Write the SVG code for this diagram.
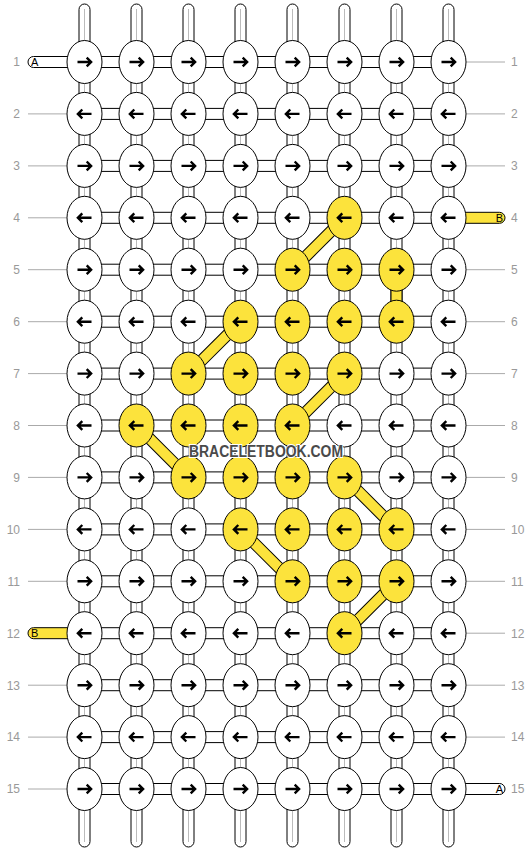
<svg xmlns="http://www.w3.org/2000/svg" xmlns:xlink="http://www.w3.org/1999/xlink" width="532" height="852" viewBox="0 0 532 852">
<style>
.str{fill:#fff;stroke:#000;stroke-width:1}
.core{stroke:#bbb;stroke-width:1}
.hc{fill:#fff;stroke:#000;stroke-width:1}
.ycon{fill:#fce33c;stroke:#000;stroke-width:1}
.dgo{stroke:#000;stroke-width:12;stroke-linecap:butt}
.dgi{stroke:#fce33c;stroke-width:10;stroke-linecap:butt}
.side{stroke:#aaa;stroke-width:1}
.num{font-family:"Liberation Sans",Arial,sans-serif;font-size:12px;fill:#999}
.lab{font-family:"Liberation Sans",Arial,sans-serif;font-size:11px;fill:#000}
.w ellipse{fill:#fff;stroke:#000;stroke-width:1}
.y ellipse{fill:#fce33c;stroke:#000;stroke-width:1}
.ar{fill:none;stroke:#000;stroke-width:2.4}
.wm{font-family:"Liberation Sans",Arial,sans-serif;font-size:16px;font-weight:bold;fill:#4a4a4a;stroke:#fff;stroke-width:2;paint-order:stroke}
</style>
<defs>
<path id="R" class="ar" d="M-7,0H6.2M2.2,-4.4L6.6,0L2.2,4.4"/>
<path id="L" class="ar" d="M7,0H-6.2M-2.2,-4.4L-6.6,0L-2.2,4.4"/>
</defs>
<g id="connectors">
<rect class="str" x="79" y="4" width="11" height="843" rx="5.5"/>
<rect class="str" x="131" y="4" width="11" height="843" rx="5.5"/>
<rect class="str" x="183" y="4" width="11" height="843" rx="5.5"/>
<rect class="str" x="235" y="4" width="11" height="843" rx="5.5"/>
<rect class="str" x="287" y="4" width="11" height="843" rx="5.5"/>
<rect class="str" x="339" y="4" width="11" height="843" rx="5.5"/>
<rect class="str" x="391" y="4" width="11" height="843" rx="5.5"/>
<rect class="str" x="443" y="4" width="11" height="843" rx="5.5"/>
<line class="core" x1="84.5" y1="9" x2="84.5" y2="842"/>
<line class="core" x1="136.5" y1="9" x2="136.5" y2="842"/>
<line class="core" x1="188.5" y1="9" x2="188.5" y2="842"/>
<line class="core" x1="240.5" y1="9" x2="240.5" y2="842"/>
<line class="core" x1="292.5" y1="9" x2="292.5" y2="842"/>
<line class="core" x1="344.5" y1="9" x2="344.5" y2="842"/>
<line class="core" x1="396.5" y1="9" x2="396.5" y2="842"/>
<line class="core" x1="448.5" y1="9" x2="448.5" y2="842"/>
<rect class="hc" x="84.5" y="56.5" width="364" height="11"/>
<rect class="hc" x="84.5" y="108.4" width="364" height="11"/>
<rect class="hc" x="84.5" y="160.4" width="364" height="11"/>
<rect class="hc" x="84.5" y="212.3" width="364" height="11"/>
<rect class="hc" x="84.5" y="264.2" width="364" height="11"/>
<rect class="hc" x="84.5" y="316.2" width="364" height="11"/>
<rect class="hc" x="84.5" y="368.1" width="364" height="11"/>
<rect class="hc" x="84.5" y="420" width="364" height="11"/>
<rect class="hc" x="84.5" y="471.9" width="364" height="11"/>
<rect class="hc" x="84.5" y="523.9" width="364" height="11"/>
<rect class="hc" x="84.5" y="575.8" width="364" height="11"/>
<rect class="hc" x="84.5" y="627.7" width="364" height="11"/>
<rect class="hc" x="84.5" y="679.7" width="364" height="11"/>
<rect class="hc" x="84.5" y="731.6" width="364" height="11"/>
<rect class="hc" x="84.5" y="783.5" width="364" height="11"/>
<rect class="ycon" x="391" y="269.7" width="11" height="52"/>
<line class="dgo" x1="344.5" y1="217.8" x2="292.5" y2="269.7"/>
<line class="dgo" x1="240.5" y1="321.7" x2="188.5" y2="373.6"/>
<line class="dgo" x1="344.5" y1="373.6" x2="292.5" y2="425.5"/>
<line class="dgo" x1="136.5" y1="425.5" x2="188.5" y2="477.4"/>
<line class="dgo" x1="344.5" y1="477.4" x2="396.5" y2="529.4"/>
<line class="dgo" x1="240.5" y1="529.4" x2="292.5" y2="581.3"/>
<line class="dgo" x1="396.5" y1="581.3" x2="344.5" y2="633.2"/>
<line class="dgi" x1="344.5" y1="217.8" x2="292.5" y2="269.7"/>
<line class="dgi" x1="240.5" y1="321.7" x2="188.5" y2="373.6"/>
<line class="dgi" x1="344.5" y1="373.6" x2="292.5" y2="425.5"/>
<line class="dgi" x1="136.5" y1="425.5" x2="188.5" y2="477.4"/>
<line class="dgi" x1="344.5" y1="477.4" x2="396.5" y2="529.4"/>
<line class="dgi" x1="240.5" y1="529.4" x2="292.5" y2="581.3"/>
<line class="dgi" x1="396.5" y1="581.3" x2="344.5" y2="633.2"/>
</g>
<g id="sides">
<rect class="str" x="28" y="56.5" width="50" height="11" rx="5.5"/>
<text class="lab" x="31" y="66">A</text>
<rect class="ycon" x="28" y="627.7" width="50" height="11" rx="5.5"/>
<text class="lab" x="31" y="637.2">B</text>
<rect class="ycon" x="455" y="212.3" width="50" height="11" rx="5.5"/>
<text class="lab" x="503" y="221.8" text-anchor="end">B</text>
<rect class="str" x="455" y="783.5" width="50" height="11" rx="5.5"/>
<text class="lab" x="503" y="793" text-anchor="end">A</text>
<line class="side" x1="28" y1="113.9" x2="67" y2="113.9"/>
<line class="side" x1="28" y1="165.9" x2="67" y2="165.9"/>
<line class="side" x1="28" y1="217.8" x2="67" y2="217.8"/>
<line class="side" x1="28" y1="269.7" x2="67" y2="269.7"/>
<line class="side" x1="28" y1="321.7" x2="67" y2="321.7"/>
<line class="side" x1="28" y1="373.6" x2="67" y2="373.6"/>
<line class="side" x1="28" y1="425.5" x2="67" y2="425.5"/>
<line class="side" x1="28" y1="477.4" x2="67" y2="477.4"/>
<line class="side" x1="28" y1="529.4" x2="67" y2="529.4"/>
<line class="side" x1="28" y1="581.3" x2="67" y2="581.3"/>
<line class="side" x1="28" y1="685.2" x2="67" y2="685.2"/>
<line class="side" x1="28" y1="737.1" x2="67" y2="737.1"/>
<line class="side" x1="28" y1="789" x2="67" y2="789"/>
<line class="side" x1="466" y1="62" x2="505" y2="62"/>
<line class="side" x1="466" y1="113.9" x2="505" y2="113.9"/>
<line class="side" x1="466" y1="165.9" x2="505" y2="165.9"/>
<line class="side" x1="466" y1="269.7" x2="505" y2="269.7"/>
<line class="side" x1="466" y1="321.7" x2="505" y2="321.7"/>
<line class="side" x1="466" y1="373.6" x2="505" y2="373.6"/>
<line class="side" x1="466" y1="425.5" x2="505" y2="425.5"/>
<line class="side" x1="466" y1="477.4" x2="505" y2="477.4"/>
<line class="side" x1="466" y1="529.4" x2="505" y2="529.4"/>
<line class="side" x1="466" y1="581.3" x2="505" y2="581.3"/>
<line class="side" x1="466" y1="633.2" x2="505" y2="633.2"/>
<line class="side" x1="466" y1="685.2" x2="505" y2="685.2"/>
<line class="side" x1="466" y1="737.1" x2="505" y2="737.1"/>
</g>
<g id="numbers">
<text class="num" x="20" y="66.3" text-anchor="end">1</text><text class="num" x="511" y="66.3">1</text>
<text class="num" x="20" y="118.2" text-anchor="end">2</text><text class="num" x="511" y="118.2">2</text>
<text class="num" x="20" y="170.2" text-anchor="end">3</text><text class="num" x="511" y="170.2">3</text>
<text class="num" x="20" y="222.1" text-anchor="end">4</text><text class="num" x="511" y="222.1">4</text>
<text class="num" x="20" y="274" text-anchor="end">5</text><text class="num" x="511" y="274">5</text>
<text class="num" x="20" y="326" text-anchor="end">6</text><text class="num" x="511" y="326">6</text>
<text class="num" x="20" y="377.9" text-anchor="end">7</text><text class="num" x="511" y="377.9">7</text>
<text class="num" x="20" y="429.8" text-anchor="end">8</text><text class="num" x="511" y="429.8">8</text>
<text class="num" x="20" y="481.7" text-anchor="end">9</text><text class="num" x="511" y="481.7">9</text>
<text class="num" x="20" y="533.7" text-anchor="end">10</text><text class="num" x="511" y="533.7">10</text>
<text class="num" x="20" y="585.6" text-anchor="end">11</text><text class="num" x="511" y="585.6">11</text>
<text class="num" x="20" y="637.5" text-anchor="end">12</text><text class="num" x="511" y="637.5">12</text>
<text class="num" x="20" y="689.5" text-anchor="end">13</text><text class="num" x="511" y="689.5">13</text>
<text class="num" x="20" y="741.4" text-anchor="end">14</text><text class="num" x="511" y="741.4">14</text>
<text class="num" x="20" y="793.3" text-anchor="end">15</text><text class="num" x="511" y="793.3">15</text>
</g>
<g id="knots">
<g id="k1-1" class="w"><ellipse cx="84.5" cy="62" rx="17.5" ry="21.5"/><use href="#R" x="84.5" y="62"/></g>
<g id="k1-2" class="w"><ellipse cx="136.5" cy="62" rx="17.5" ry="21.5"/><use href="#R" x="136.5" y="62"/></g>
<g id="k1-3" class="w"><ellipse cx="188.5" cy="62" rx="17.5" ry="21.5"/><use href="#R" x="188.5" y="62"/></g>
<g id="k1-4" class="w"><ellipse cx="240.5" cy="62" rx="17.5" ry="21.5"/><use href="#R" x="240.5" y="62"/></g>
<g id="k1-5" class="w"><ellipse cx="292.5" cy="62" rx="17.5" ry="21.5"/><use href="#R" x="292.5" y="62"/></g>
<g id="k1-6" class="w"><ellipse cx="344.5" cy="62" rx="17.5" ry="21.5"/><use href="#R" x="344.5" y="62"/></g>
<g id="k1-7" class="w"><ellipse cx="396.5" cy="62" rx="17.5" ry="21.5"/><use href="#R" x="396.5" y="62"/></g>
<g id="k1-8" class="w"><ellipse cx="448.5" cy="62" rx="17.5" ry="21.5"/><use href="#R" x="448.5" y="62"/></g>
<g id="k2-1" class="w"><ellipse cx="84.5" cy="113.9" rx="17.5" ry="21.5"/><use href="#L" x="84.5" y="113.9"/></g>
<g id="k2-2" class="w"><ellipse cx="136.5" cy="113.9" rx="17.5" ry="21.5"/><use href="#L" x="136.5" y="113.9"/></g>
<g id="k2-3" class="w"><ellipse cx="188.5" cy="113.9" rx="17.5" ry="21.5"/><use href="#L" x="188.5" y="113.9"/></g>
<g id="k2-4" class="w"><ellipse cx="240.5" cy="113.9" rx="17.5" ry="21.5"/><use href="#L" x="240.5" y="113.9"/></g>
<g id="k2-5" class="w"><ellipse cx="292.5" cy="113.9" rx="17.5" ry="21.5"/><use href="#L" x="292.5" y="113.9"/></g>
<g id="k2-6" class="w"><ellipse cx="344.5" cy="113.9" rx="17.5" ry="21.5"/><use href="#L" x="344.5" y="113.9"/></g>
<g id="k2-7" class="w"><ellipse cx="396.5" cy="113.9" rx="17.5" ry="21.5"/><use href="#L" x="396.5" y="113.9"/></g>
<g id="k2-8" class="w"><ellipse cx="448.5" cy="113.9" rx="17.5" ry="21.5"/><use href="#L" x="448.5" y="113.9"/></g>
<g id="k3-1" class="w"><ellipse cx="84.5" cy="165.9" rx="17.5" ry="21.5"/><use href="#R" x="84.5" y="165.9"/></g>
<g id="k3-2" class="w"><ellipse cx="136.5" cy="165.9" rx="17.5" ry="21.5"/><use href="#R" x="136.5" y="165.9"/></g>
<g id="k3-3" class="w"><ellipse cx="188.5" cy="165.9" rx="17.5" ry="21.5"/><use href="#R" x="188.5" y="165.9"/></g>
<g id="k3-4" class="w"><ellipse cx="240.5" cy="165.9" rx="17.5" ry="21.5"/><use href="#R" x="240.5" y="165.9"/></g>
<g id="k3-5" class="w"><ellipse cx="292.5" cy="165.9" rx="17.5" ry="21.5"/><use href="#R" x="292.5" y="165.9"/></g>
<g id="k3-6" class="w"><ellipse cx="344.5" cy="165.9" rx="17.5" ry="21.5"/><use href="#R" x="344.5" y="165.9"/></g>
<g id="k3-7" class="w"><ellipse cx="396.5" cy="165.9" rx="17.5" ry="21.5"/><use href="#R" x="396.5" y="165.9"/></g>
<g id="k3-8" class="w"><ellipse cx="448.5" cy="165.9" rx="17.5" ry="21.5"/><use href="#R" x="448.5" y="165.9"/></g>
<g id="k4-1" class="w"><ellipse cx="84.5" cy="217.8" rx="17.5" ry="21.5"/><use href="#L" x="84.5" y="217.8"/></g>
<g id="k4-2" class="w"><ellipse cx="136.5" cy="217.8" rx="17.5" ry="21.5"/><use href="#L" x="136.5" y="217.8"/></g>
<g id="k4-3" class="w"><ellipse cx="188.5" cy="217.8" rx="17.5" ry="21.5"/><use href="#L" x="188.5" y="217.8"/></g>
<g id="k4-4" class="w"><ellipse cx="240.5" cy="217.8" rx="17.5" ry="21.5"/><use href="#L" x="240.5" y="217.8"/></g>
<g id="k4-5" class="w"><ellipse cx="292.5" cy="217.8" rx="17.5" ry="21.5"/><use href="#L" x="292.5" y="217.8"/></g>
<g id="k4-6" class="y"><ellipse cx="344.5" cy="217.8" rx="17.5" ry="21.5"/><use href="#L" x="344.5" y="217.8"/></g>
<g id="k4-7" class="w"><ellipse cx="396.5" cy="217.8" rx="17.5" ry="21.5"/><use href="#L" x="396.5" y="217.8"/></g>
<g id="k4-8" class="w"><ellipse cx="448.5" cy="217.8" rx="17.5" ry="21.5"/><use href="#L" x="448.5" y="217.8"/></g>
<g id="k5-1" class="w"><ellipse cx="84.5" cy="269.7" rx="17.5" ry="21.5"/><use href="#R" x="84.5" y="269.7"/></g>
<g id="k5-2" class="w"><ellipse cx="136.5" cy="269.7" rx="17.5" ry="21.5"/><use href="#R" x="136.5" y="269.7"/></g>
<g id="k5-3" class="w"><ellipse cx="188.5" cy="269.7" rx="17.5" ry="21.5"/><use href="#R" x="188.5" y="269.7"/></g>
<g id="k5-4" class="w"><ellipse cx="240.5" cy="269.7" rx="17.5" ry="21.5"/><use href="#R" x="240.5" y="269.7"/></g>
<g id="k5-5" class="y"><ellipse cx="292.5" cy="269.7" rx="17.5" ry="21.5"/><use href="#R" x="292.5" y="269.7"/></g>
<g id="k5-6" class="y"><ellipse cx="344.5" cy="269.7" rx="17.5" ry="21.5"/><use href="#R" x="344.5" y="269.7"/></g>
<g id="k5-7" class="y"><ellipse cx="396.5" cy="269.7" rx="17.5" ry="21.5"/><use href="#R" x="396.5" y="269.7"/></g>
<g id="k5-8" class="w"><ellipse cx="448.5" cy="269.7" rx="17.5" ry="21.5"/><use href="#R" x="448.5" y="269.7"/></g>
<g id="k6-1" class="w"><ellipse cx="84.5" cy="321.7" rx="17.5" ry="21.5"/><use href="#L" x="84.5" y="321.7"/></g>
<g id="k6-2" class="w"><ellipse cx="136.5" cy="321.7" rx="17.5" ry="21.5"/><use href="#L" x="136.5" y="321.7"/></g>
<g id="k6-3" class="w"><ellipse cx="188.5" cy="321.7" rx="17.5" ry="21.5"/><use href="#L" x="188.5" y="321.7"/></g>
<g id="k6-4" class="y"><ellipse cx="240.5" cy="321.7" rx="17.5" ry="21.5"/><use href="#L" x="240.5" y="321.7"/></g>
<g id="k6-5" class="y"><ellipse cx="292.5" cy="321.7" rx="17.5" ry="21.5"/><use href="#L" x="292.5" y="321.7"/></g>
<g id="k6-6" class="y"><ellipse cx="344.5" cy="321.7" rx="17.5" ry="21.5"/><use href="#L" x="344.5" y="321.7"/></g>
<g id="k6-7" class="y"><ellipse cx="396.5" cy="321.7" rx="17.5" ry="21.5"/><use href="#L" x="396.5" y="321.7"/></g>
<g id="k6-8" class="w"><ellipse cx="448.5" cy="321.7" rx="17.5" ry="21.5"/><use href="#L" x="448.5" y="321.7"/></g>
<g id="k7-1" class="w"><ellipse cx="84.5" cy="373.6" rx="17.5" ry="21.5"/><use href="#R" x="84.5" y="373.6"/></g>
<g id="k7-2" class="w"><ellipse cx="136.5" cy="373.6" rx="17.5" ry="21.5"/><use href="#R" x="136.5" y="373.6"/></g>
<g id="k7-3" class="y"><ellipse cx="188.5" cy="373.6" rx="17.5" ry="21.5"/><use href="#R" x="188.5" y="373.6"/></g>
<g id="k7-4" class="y"><ellipse cx="240.5" cy="373.6" rx="17.5" ry="21.5"/><use href="#R" x="240.5" y="373.6"/></g>
<g id="k7-5" class="y"><ellipse cx="292.5" cy="373.6" rx="17.5" ry="21.5"/><use href="#R" x="292.5" y="373.6"/></g>
<g id="k7-6" class="y"><ellipse cx="344.5" cy="373.6" rx="17.5" ry="21.5"/><use href="#R" x="344.5" y="373.6"/></g>
<g id="k7-7" class="w"><ellipse cx="396.5" cy="373.6" rx="17.5" ry="21.5"/><use href="#R" x="396.5" y="373.6"/></g>
<g id="k7-8" class="w"><ellipse cx="448.5" cy="373.6" rx="17.5" ry="21.5"/><use href="#R" x="448.5" y="373.6"/></g>
<g id="k8-1" class="w"><ellipse cx="84.5" cy="425.5" rx="17.5" ry="21.5"/><use href="#L" x="84.5" y="425.5"/></g>
<g id="k8-2" class="y"><ellipse cx="136.5" cy="425.5" rx="17.5" ry="21.5"/><use href="#L" x="136.5" y="425.5"/></g>
<g id="k8-3" class="y"><ellipse cx="188.5" cy="425.5" rx="17.5" ry="21.5"/><use href="#L" x="188.5" y="425.5"/></g>
<g id="k8-4" class="y"><ellipse cx="240.5" cy="425.5" rx="17.5" ry="21.5"/><use href="#L" x="240.5" y="425.5"/></g>
<g id="k8-5" class="y"><ellipse cx="292.5" cy="425.5" rx="17.5" ry="21.5"/><use href="#L" x="292.5" y="425.5"/></g>
<g id="k8-6" class="w"><ellipse cx="344.5" cy="425.5" rx="17.5" ry="21.5"/><use href="#L" x="344.5" y="425.5"/></g>
<g id="k8-7" class="w"><ellipse cx="396.5" cy="425.5" rx="17.5" ry="21.5"/><use href="#L" x="396.5" y="425.5"/></g>
<g id="k8-8" class="w"><ellipse cx="448.5" cy="425.5" rx="17.5" ry="21.5"/><use href="#L" x="448.5" y="425.5"/></g>
<g id="k9-1" class="w"><ellipse cx="84.5" cy="477.4" rx="17.5" ry="21.5"/><use href="#R" x="84.5" y="477.4"/></g>
<g id="k9-2" class="w"><ellipse cx="136.5" cy="477.4" rx="17.5" ry="21.5"/><use href="#R" x="136.5" y="477.4"/></g>
<g id="k9-3" class="y"><ellipse cx="188.5" cy="477.4" rx="17.5" ry="21.5"/><use href="#R" x="188.5" y="477.4"/></g>
<g id="k9-4" class="y"><ellipse cx="240.5" cy="477.4" rx="17.5" ry="21.5"/><use href="#R" x="240.5" y="477.4"/></g>
<g id="k9-5" class="y"><ellipse cx="292.5" cy="477.4" rx="17.5" ry="21.5"/><use href="#R" x="292.5" y="477.4"/></g>
<g id="k9-6" class="y"><ellipse cx="344.5" cy="477.4" rx="17.5" ry="21.5"/><use href="#R" x="344.5" y="477.4"/></g>
<g id="k9-7" class="w"><ellipse cx="396.5" cy="477.4" rx="17.5" ry="21.5"/><use href="#R" x="396.5" y="477.4"/></g>
<g id="k9-8" class="w"><ellipse cx="448.5" cy="477.4" rx="17.5" ry="21.5"/><use href="#R" x="448.5" y="477.4"/></g>
<g id="k10-1" class="w"><ellipse cx="84.5" cy="529.4" rx="17.5" ry="21.5"/><use href="#L" x="84.5" y="529.4"/></g>
<g id="k10-2" class="w"><ellipse cx="136.5" cy="529.4" rx="17.5" ry="21.5"/><use href="#L" x="136.5" y="529.4"/></g>
<g id="k10-3" class="w"><ellipse cx="188.5" cy="529.4" rx="17.5" ry="21.5"/><use href="#L" x="188.5" y="529.4"/></g>
<g id="k10-4" class="y"><ellipse cx="240.5" cy="529.4" rx="17.5" ry="21.5"/><use href="#L" x="240.5" y="529.4"/></g>
<g id="k10-5" class="y"><ellipse cx="292.5" cy="529.4" rx="17.5" ry="21.5"/><use href="#L" x="292.5" y="529.4"/></g>
<g id="k10-6" class="y"><ellipse cx="344.5" cy="529.4" rx="17.5" ry="21.5"/><use href="#L" x="344.5" y="529.4"/></g>
<g id="k10-7" class="y"><ellipse cx="396.5" cy="529.4" rx="17.5" ry="21.5"/><use href="#L" x="396.5" y="529.4"/></g>
<g id="k10-8" class="w"><ellipse cx="448.5" cy="529.4" rx="17.5" ry="21.5"/><use href="#L" x="448.5" y="529.4"/></g>
<g id="k11-1" class="w"><ellipse cx="84.5" cy="581.3" rx="17.5" ry="21.5"/><use href="#R" x="84.5" y="581.3"/></g>
<g id="k11-2" class="w"><ellipse cx="136.5" cy="581.3" rx="17.5" ry="21.5"/><use href="#R" x="136.5" y="581.3"/></g>
<g id="k11-3" class="w"><ellipse cx="188.5" cy="581.3" rx="17.5" ry="21.5"/><use href="#R" x="188.5" y="581.3"/></g>
<g id="k11-4" class="w"><ellipse cx="240.5" cy="581.3" rx="17.5" ry="21.5"/><use href="#R" x="240.5" y="581.3"/></g>
<g id="k11-5" class="y"><ellipse cx="292.5" cy="581.3" rx="17.5" ry="21.5"/><use href="#R" x="292.5" y="581.3"/></g>
<g id="k11-6" class="y"><ellipse cx="344.5" cy="581.3" rx="17.5" ry="21.5"/><use href="#R" x="344.5" y="581.3"/></g>
<g id="k11-7" class="y"><ellipse cx="396.5" cy="581.3" rx="17.5" ry="21.5"/><use href="#R" x="396.5" y="581.3"/></g>
<g id="k11-8" class="w"><ellipse cx="448.5" cy="581.3" rx="17.5" ry="21.5"/><use href="#R" x="448.5" y="581.3"/></g>
<g id="k12-1" class="w"><ellipse cx="84.5" cy="633.2" rx="17.5" ry="21.5"/><use href="#L" x="84.5" y="633.2"/></g>
<g id="k12-2" class="w"><ellipse cx="136.5" cy="633.2" rx="17.5" ry="21.5"/><use href="#L" x="136.5" y="633.2"/></g>
<g id="k12-3" class="w"><ellipse cx="188.5" cy="633.2" rx="17.5" ry="21.5"/><use href="#L" x="188.5" y="633.2"/></g>
<g id="k12-4" class="w"><ellipse cx="240.5" cy="633.2" rx="17.5" ry="21.5"/><use href="#L" x="240.5" y="633.2"/></g>
<g id="k12-5" class="w"><ellipse cx="292.5" cy="633.2" rx="17.5" ry="21.5"/><use href="#L" x="292.5" y="633.2"/></g>
<g id="k12-6" class="y"><ellipse cx="344.5" cy="633.2" rx="17.5" ry="21.5"/><use href="#L" x="344.5" y="633.2"/></g>
<g id="k12-7" class="w"><ellipse cx="396.5" cy="633.2" rx="17.5" ry="21.5"/><use href="#L" x="396.5" y="633.2"/></g>
<g id="k12-8" class="w"><ellipse cx="448.5" cy="633.2" rx="17.5" ry="21.5"/><use href="#L" x="448.5" y="633.2"/></g>
<g id="k13-1" class="w"><ellipse cx="84.5" cy="685.2" rx="17.5" ry="21.5"/><use href="#R" x="84.5" y="685.2"/></g>
<g id="k13-2" class="w"><ellipse cx="136.5" cy="685.2" rx="17.5" ry="21.5"/><use href="#R" x="136.5" y="685.2"/></g>
<g id="k13-3" class="w"><ellipse cx="188.5" cy="685.2" rx="17.5" ry="21.5"/><use href="#R" x="188.5" y="685.2"/></g>
<g id="k13-4" class="w"><ellipse cx="240.5" cy="685.2" rx="17.5" ry="21.5"/><use href="#R" x="240.5" y="685.2"/></g>
<g id="k13-5" class="w"><ellipse cx="292.5" cy="685.2" rx="17.5" ry="21.5"/><use href="#R" x="292.5" y="685.2"/></g>
<g id="k13-6" class="w"><ellipse cx="344.5" cy="685.2" rx="17.5" ry="21.5"/><use href="#R" x="344.5" y="685.2"/></g>
<g id="k13-7" class="w"><ellipse cx="396.5" cy="685.2" rx="17.5" ry="21.5"/><use href="#R" x="396.5" y="685.2"/></g>
<g id="k13-8" class="w"><ellipse cx="448.5" cy="685.2" rx="17.5" ry="21.5"/><use href="#R" x="448.5" y="685.2"/></g>
<g id="k14-1" class="w"><ellipse cx="84.5" cy="737.1" rx="17.5" ry="21.5"/><use href="#L" x="84.5" y="737.1"/></g>
<g id="k14-2" class="w"><ellipse cx="136.5" cy="737.1" rx="17.5" ry="21.5"/><use href="#L" x="136.5" y="737.1"/></g>
<g id="k14-3" class="w"><ellipse cx="188.5" cy="737.1" rx="17.5" ry="21.5"/><use href="#L" x="188.5" y="737.1"/></g>
<g id="k14-4" class="w"><ellipse cx="240.5" cy="737.1" rx="17.5" ry="21.5"/><use href="#L" x="240.5" y="737.1"/></g>
<g id="k14-5" class="w"><ellipse cx="292.5" cy="737.1" rx="17.5" ry="21.5"/><use href="#L" x="292.5" y="737.1"/></g>
<g id="k14-6" class="w"><ellipse cx="344.5" cy="737.1" rx="17.5" ry="21.5"/><use href="#L" x="344.5" y="737.1"/></g>
<g id="k14-7" class="w"><ellipse cx="396.5" cy="737.1" rx="17.5" ry="21.5"/><use href="#L" x="396.5" y="737.1"/></g>
<g id="k14-8" class="w"><ellipse cx="448.5" cy="737.1" rx="17.5" ry="21.5"/><use href="#L" x="448.5" y="737.1"/></g>
<g id="k15-1" class="w"><ellipse cx="84.5" cy="789" rx="17.5" ry="21.5"/><use href="#R" x="84.5" y="789"/></g>
<g id="k15-2" class="w"><ellipse cx="136.5" cy="789" rx="17.5" ry="21.5"/><use href="#R" x="136.5" y="789"/></g>
<g id="k15-3" class="w"><ellipse cx="188.5" cy="789" rx="17.5" ry="21.5"/><use href="#R" x="188.5" y="789"/></g>
<g id="k15-4" class="w"><ellipse cx="240.5" cy="789" rx="17.5" ry="21.5"/><use href="#R" x="240.5" y="789"/></g>
<g id="k15-5" class="w"><ellipse cx="292.5" cy="789" rx="17.5" ry="21.5"/><use href="#R" x="292.5" y="789"/></g>
<g id="k15-6" class="w"><ellipse cx="344.5" cy="789" rx="17.5" ry="21.5"/><use href="#R" x="344.5" y="789"/></g>
<g id="k15-7" class="w"><ellipse cx="396.5" cy="789" rx="17.5" ry="21.5"/><use href="#R" x="396.5" y="789"/></g>
<g id="k15-8" class="w"><ellipse cx="448.5" cy="789" rx="17.5" ry="21.5"/><use href="#R" x="448.5" y="789"/></g>
</g>
<text class="wm" x="266" y="457" text-anchor="middle" textLength="154" lengthAdjust="spacingAndGlyphs">BRACELETBOOK.COM</text>
</svg>
